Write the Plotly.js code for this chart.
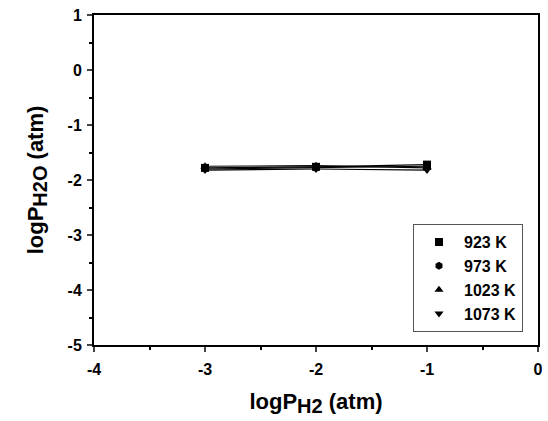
<!DOCTYPE html>
<html><head><meta charset="utf-8">
<script src="https://cdn.plot.ly/plotly-3.0.1.min.js"></script>
<style>body{margin:0;background:#fff}#c{width:548px;height:421px}</style>
</head><body><div id="c"></div>
<script>
const xVals = [-3, -2, -1];
const seriesNames = ["923 K", "973 K", "1023 K", "1073 K"];
const y923 = [-1.78, -1.76, -1.72];
const y973 = [-1.80, -1.78, -1.75];
const y1023 = [-1.75, -1.74, -1.78];
const y1073 = [-1.82, -1.80, -1.82];
const xTickVals = [-4, -3, -2, -1, 0];
const xTickText = ["-4", "-3", "-2", "-1", "0"];
const yTickVals = [-5, -4, -3, -2, -1, 0, 1];
const yTickText = ["-5", "-4", "-3", "-2", "-1", "0", "1"];
const symbols = ["square", "hexagon", "triangle-up", "triangle-down"];
const ys = [y923, y973, y1023, y1073];

const traces = [];
ys.forEach((y, i) => {
  traces.push({
    x: xVals, y: y, name: seriesNames[i], type: "scatter", mode: "lines+markers",
    showlegend: false,
    line: {color: "#000", width: 1.2},
    marker: {symbol: symbols[i], size: 8, color: "#000"}
  });
});
ys.forEach((y, i) => {
  traces.push({
    x: [null], y: [null], name: seriesNames[i], type: "scatter", mode: "markers",
    marker: {symbol: symbols[i], size: 8, color: "#000"}
  });
});

const fam = "Liberation Sans, Arial";
const tickFont = {family: fam, size: 16, color: "#000", weight: "bold"};
const layout = {
  width: 548, height: 421,
  margin: {l: 94, r: 10, t: 15, b: 76},
  paper_bgcolor: "#fff", plot_bgcolor: "#fff",
  showlegend: true,
  legend: {x: 0.7185, y: 0.039, xanchor: "left", yanchor: "bottom",
    bordercolor: "#555", borderwidth: 1, bgcolor: "#fff",
    font: {family: fam, size: 16, color: "#000", weight: "bold"},
    tracegroupgap: 0, itemwidth: 40},
  xaxis: {range: [-4, 0], tickmode: "array", tickvals: xTickVals, ticktext: xTickText,
    ticks: "outside", ticklen: 5, tickwidth: 2, ticklabelstandoff: 4,
    showline: true, linewidth: 2, linecolor: "#000", mirror: true, showgrid: false, zeroline: false,
    tickfont: tickFont,
    minor: {dtick: 0.5, ticks: "outside", ticklen: 3, tickwidth: 2, tickcolor: "#000", showgrid: false},
    title: {text: "logP<sub><span style='font-size:20px'>H2</span></sub> (atm)", font: {family: fam, size: 22, color: "#000", weight: "bold"}, standoff: 16}},
  yaxis: {range: [-5, 1], tickmode: "array", tickvals: yTickVals, ticktext: yTickText,
    ticks: "outside", ticklen: 5, tickwidth: 2, ticklabelstandoff: 2,
    showline: true, linewidth: 2, linecolor: "#000", mirror: true, showgrid: false, zeroline: false,
    tickfont: tickFont,
    minor: {dtick: 0.5, ticks: "outside", ticklen: 3, tickwidth: 2, tickcolor: "#000", showgrid: false},
    title: {text: "logP<sub><span style='font-size:20px'>H2O</span></sub> (atm)", font: {family: fam, size: 22, color: "#000", weight: "bold"}, standoff: 18}}
};
Plotly.newPlot("c", traces, layout, {displayModeBar: false, staticPlot: true});
</script></body></html>
